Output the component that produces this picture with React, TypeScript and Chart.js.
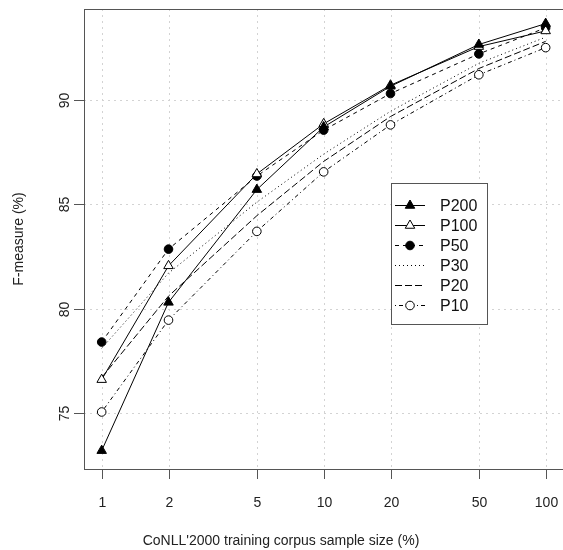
import React, { useEffect, useRef } from "react";
import { Chart, registerables } from "chart.js";

Chart.register(...registerables);

const sampleSizes = [1, 2, 5, 10, 20, 50, 100];
const p200 = [73.2, 80.3, 85.7, 88.7, 90.65, 92.65, 93.65];
const p100 = [76.6, 82.05, 86.45, 88.85, 90.7, 92.55, 93.3];
const p50 = [78.4, 82.85, 86.35, 88.55, 90.3, 92.2, 93.45];
const p30 = [78.1, 81.7, 85.1, 87.4, 89.45, 91.75, 93.0];
const p20 = [76.7, 80.6, 84.45, 87.05, 89.2, 91.5, 92.8];
const p10 = [75.05, 79.45, 83.7, 86.55, 88.8, 91.2, 92.5];
const seriesNames = ["P200", "P100", "P50", "P30", "P20", "P10"];
const xTicks = [1, 2, 5, 10, 20, 50, 100];
const yTicks = [75, 80, 85, 90];
const xTitle = "CoNLL'2000 training corpus sample size (%)";
const yTitle = "F-measure (%)";

const FONT = "'Liberation Sans', Arial, Helvetica, sans-serif";

type Style = { dash: number[]; marker: "tri" | "circle" | null; filled: boolean };
const styles: Style[] = [
  { dash: [], marker: "tri", filled: true },
  { dash: [], marker: "tri", filled: false },
  { dash: [4, 4], marker: "circle", filled: true },
  { dash: [1, 3], marker: null, filled: false },
  { dash: [7, 3], marker: null, filled: false },
  { dash: [1, 3, 4, 3], marker: "circle", filled: false },
];

function drawMarker(ctx: CanvasRenderingContext2D, s: Style, x: number, y: number) {
  if (!s.marker) return;
  ctx.save();
  ctx.setLineDash([]);
  ctx.lineWidth = 1;
  ctx.strokeStyle = "#000";
  ctx.fillStyle = s.filled ? "#000" : "#fff";
  ctx.beginPath();
  if (s.marker === "tri") {
    const r = 5.5;
    ctx.moveTo(x, y - r);
    ctx.lineTo(x + r * Math.sin((2 * Math.PI) / 3), y + r * 0.5);
    ctx.lineTo(x - r * Math.sin((2 * Math.PI) / 3), y + r * 0.5);
    ctx.closePath();
  } else {
    ctx.arc(x, y, 4.3, 0, Math.PI * 2);
  }
  ctx.fill();
  ctx.stroke();
  ctx.restore();
}

export default function App() {
  const ref = useRef<HTMLCanvasElement | null>(null);

  useEffect(() => {
    if (!ref.current) return;
    const allSeries = [p200, p100, p50, p30, p20, p10];

    const decor = {
      id: "decor",
      beforeDatasetsDraw(chart: any) {
        const ctx = chart.ctx as CanvasRenderingContext2D;
        const { left, right, top, bottom } = chart.chartArea;
        const xs = chart.scales.x;
        const ys = chart.scales.y;
        ctx.save();
        ctx.strokeStyle = "#d3d3d3";
        ctx.lineWidth = 1;
        ctx.setLineDash([2, 4]);
        for (const t of xTicks) {
          const px = Math.round(xs.getPixelForValue(t)) + 0.5;
          ctx.beginPath();
          ctx.moveTo(px, top);
          ctx.lineTo(px, bottom);
          ctx.stroke();
        }
        for (const t of yTicks) {
          const py = Math.round(ys.getPixelForValue(t)) + 0.5;
          ctx.beginPath();
          ctx.moveTo(left, py);
          ctx.lineTo(right, py);
          ctx.stroke();
        }
        ctx.restore();
      },
      afterDatasetsDraw(chart: any) {
        const ctx = chart.ctx as CanvasRenderingContext2D;
        const { left, right, top, bottom } = chart.chartArea;
        const xs = chart.scales.x;
        const ys = chart.scales.y;
        ctx.save();
        // box
        ctx.setLineDash([]);
        ctx.strokeStyle = "#555";
        ctx.lineWidth = 1;
        ctx.strokeRect(left + 0.5, top + 0.5, right - left, bottom - top);
        // ticks
        ctx.fillStyle = "#222";
        ctx.font = `14px ${FONT}`;
        ctx.textAlign = "center";
        ctx.textBaseline = "middle";
        for (const t of xTicks) {
          const px = Math.round(xs.getPixelForValue(t)) + 0.5;
          ctx.beginPath();
          ctx.moveTo(px, bottom);
          ctx.lineTo(px, bottom + 10);
          ctx.stroke();
          ctx.fillText(String(t), px, bottom + 34);
        }
        for (const t of yTicks) {
          const py = Math.round(ys.getPixelForValue(t)) + 0.5;
          ctx.beginPath();
          ctx.moveTo(left, py);
          ctx.lineTo(left - 10, py);
          ctx.stroke();
          ctx.save();
          ctx.translate(left - 14, py);
          ctx.rotate(-Math.PI / 2);
          ctx.textBaseline = "bottom";
          ctx.fillText(String(t), 0, 2);
          ctx.restore();
        }
        // titles
        ctx.fillText(xTitle, 281, bottom + 72);
        ctx.save();
        ctx.translate(24, (top + bottom) / 2);
        ctx.rotate(-Math.PI / 2);
        ctx.textBaseline = "bottom";
        ctx.fillText(yTitle, 0, 2);
        ctx.restore();
        // legend
        const lx = 391, ly = 183, lw = 96, lh = 141;
        ctx.fillStyle = "#fff";
        ctx.fillRect(lx, ly, lw, lh);
        ctx.strokeStyle = "#555";
        ctx.strokeRect(lx + 0.5, ly + 0.5, lw, lh);
        ctx.font = `16px ${FONT}`;
        ctx.textAlign = "left";
        ctx.textBaseline = "middle";
        seriesNames.forEach((name, i) => {
          const s = styles[i];
          const ry = 205.5 + i * 20;
          ctx.save();
          ctx.strokeStyle = "#000";
          ctx.lineWidth = 1;
          ctx.setLineDash(s.dash);
          ctx.beginPath();
          ctx.moveTo(395, ry);
          ctx.lineTo(425, ry);
          ctx.stroke();
          ctx.restore();
          drawMarker(ctx, s, 410, ry);
          ctx.fillStyle = "#111";
          ctx.fillText(name, 440, ry + 1);
        });
        ctx.restore();
      },
    };

    const markerPlugin = {
      id: "markers",
      afterDatasetsDraw(chart: any) {
        const ctx = chart.ctx as CanvasRenderingContext2D;
        for (let d = allSeries.length - 1; d >= 0; d--) {
          const meta = chart.getDatasetMeta(d);
          meta.data.forEach((pt: any) => drawMarker(ctx, styles[d], pt.x, pt.y));
        }
      },
    };

    const chart = new Chart(ref.current, {
      type: "line",
      data: {
        datasets: allSeries.map((vals, i) => ({
          label: seriesNames[i],
          data: vals.map((v, j) => ({ x: sampleSizes[j], y: v })),
          borderColor: "#000",
          borderWidth: 1,
          borderDash: styles[i].dash,
          pointRadius: 0,
          fill: false,
          tension: 0,
        })),
      },
      options: {
        animation: false,
        responsive: false,
        devicePixelRatio: 1,
        layout: { padding: { left: 84, top: 9, right: 0, bottom: 81 } },
        plugins: { legend: { display: false }, tooltip: { enabled: false } },
        scales: {
          x: { type: "logarithmic", min: 0.8324, max: 119.7, display: false },
          y: { type: "linear", min: 72.32, max: 94.35, display: false },
        },
      },
      plugins: [decor, markerPlugin],
    } as any);
    return () => chart.destroy();
  }, []);

  return (
    <div style={{ position: "absolute", left: 0, top: 0, width: 563, height: 550, background: "#fff" }}>
      <canvas ref={ref} width={563} height={550} style={{ display: "block" }} />
    </div>
  );
}
